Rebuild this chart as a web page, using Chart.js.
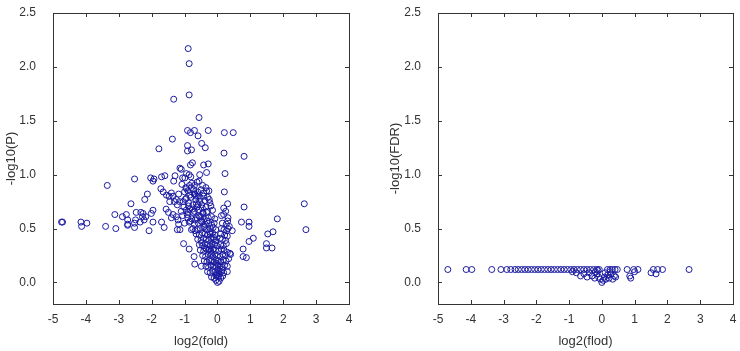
<!DOCTYPE html>
<html>
<head>
<meta charset="utf-8">
<script src="https://cdn.jsdelivr.net/npm/chart.js@4.4.1/dist/chart.umd.min.js"></script>
<style>
    body { margin: 0; background: #fff; }
    .wrap { display: flex; width: 740px; height: 351px; }
    .wrap div { width: 370px; height: 351px; }
</style>
</head>
<body>
<div class="wrap">
    <div><canvas id="volcanoP" width="370" height="351"></canvas></div>
    <div><canvas id="volcanoFdr" width="370" height="351"></canvas></div>
</div>
<script>
// tick values
let xTicks = [-5, -4, -3, -2, -1, 0, 1, 2, 3, 4];
let yTicks = [0, 0.5, 1.0, 1.5, 2.0, 2.5];

// left panel: log2(fold) vs -log10(P)
let foldP = [
    -0.89, -0.86, -0.86, -1.33, -0.56, -0.91, -0.82, -0.70, -0.28, 0.21, 0.48, -0.59, -1.37, -0.48, -0.37,
    -0.91, -0.91, -0.79, -1.78, 0.20, 0.81, -0.76, -0.82, -0.42, -0.28, -1.14, -1.10, -0.33, 0.23, -1.29,
    -1.60, -1.70, -0.94, -0.86, -0.99, -0.81, -0.54, -2.03, -1.93, -2.52, -1.96, -1.33, -1.06, -0.56, -3.35,
    -1.72, -1.65, -0.94, -0.79, -0.35, -0.26, -0.33, 0.21, -1.40, -1.47, -1.55, -1.35, -2.13, -2.21, -1.18,
    -1.25, -0.71, -0.64, -0.42, -1.45, -1.31, -1.15, -0.54, -0.59, -1.04, -0.98, -0.25, -0.23, 0.31, -2.63,
    2.64, 0.81, 0.19, 0.25, -1.56, -1.49, -1.96, -2.01, -2.47, -2.33, -2.26, -0.84, -0.89, -0.74, -0.33,
    -3.12, -2.77, -2.89, -2.28, -2.18, -1.35, -1.40, -1.25, -1.06, -0.54, -0.50, -0.44, 0.12, 0.19, -2.73,
    -2.49, -2.23, -2.35, 1.82, 0.31, -4.71, -4.74, -4.15, -3.97, -4.13, -3.40, -3.09, -2.73, -2.73, -2.52,
    -2.52, -1.96, -2.08, -1.70, -1.62, 0.73, 0.96, 0.96, -1.18, -1.14, -1.22, -0.86, -0.79, 1.69, 1.53,
    2.69, 0.45, 0.32, 1.09, 0.96, -1.03, 1.49, 1.49, 1.66, 0.78, -0.86, 0.78, 0.88, -0.71, -0.69,
    -0.49, 0.38,
    -0.78, -0.70, -0.62, -0.45, -0.85, -0.90, -0.72, -0.60, -0.50, -0.42, -1.00, -0.95, -0.80, -0.66, -0.52,
    -0.38, -0.30, -0.88, -0.74, -0.62, -0.48, -0.35, -0.20, -1.10, -0.95, -0.70, -0.56, -0.44, -0.30, -0.15,
    -1.20, -0.90, -0.78, -0.63, -0.50, -0.40, -0.28, -0.18, -0.08, 0.32, -1.00, -0.70, -0.58, -0.47, -0.37,
    -0.27, -0.17, -0.10, 0.15, 0.27, 0.36, -0.75, -0.62, -0.52, -0.42, -0.33, -0.22, -0.13, -0.05, 0.12,
    0.20, 0.28, -0.65, -0.55, -0.46, -0.38, -0.30, -0.22, -0.15, -0.08, 0.10, 0.22, 0.30, -0.60, -0.50,
    -0.42, -0.34, -0.27, -0.20, -0.12, -0.05, 0.08, 0.15, 0.25, -0.55, -0.45, -0.37, -0.30, -0.23, -0.16,
    -0.09, -0.02, 0.10, 0.18, 0.27, -0.52, -0.42, -0.34, -0.27, -0.20, -0.13, -0.06, 0.04, 0.12, 0.20,
    0.30, -0.45, -0.36, -0.28, -0.21, -0.14, -0.07, 0.00, 0.08, 0.16, 0.24, 0.40, -0.40, -0.32, -0.25,
    -0.18, -0.11, -0.04, 0.03, 0.10, 0.18, 0.26, 0.34, -0.35, -0.27, -0.20, -0.13, -0.06, 0.01, 0.08,
    0.15, 0.22, 0.30, -0.30, -0.22, -0.15, -0.08, -0.02, 0.05, 0.12, 0.19, 0.30, -0.18, -0.10, -0.04,
    0.03, 0.10, 0.16, -0.05, 0.00, 0.05,
    -1.08, -0.96, -0.84, -0.68, -0.58, -1.22, -1.02, -0.88, -0.76, -0.64, -0.46, -0.92, -0.82, -0.68, -0.57,
    -0.40, -0.32, -0.24, -0.12, -0.06, -0.68, -0.48, -0.36, -0.25, -0.18, -0.03, 0.02, -0.01, 0.06, 0.14
];
let negLogP = [
    2.17, 2.03, 1.74, 1.70, 1.53, 1.41, 1.39, 1.41, 1.41, 1.39, 1.39, 1.36, 1.33, 1.29, 1.25,
    1.27, 1.22, 1.23, 1.24, 1.20, 1.17, 1.11, 1.09, 1.09, 1.10, 1.06, 1.05, 1.02, 1.01, 0.99,
    0.99, 0.98, 1.01, 1.00, 0.97, 0.98, 1.00, 0.97, 0.96, 0.96, 0.94, 0.94, 0.97, 0.94, 0.90,
    0.87, 0.84, 0.87, 0.88, 0.88, 0.85, 0.85, 0.84, 0.83, 0.80, 0.81, 0.80, 0.82, 0.77, 0.82,
    0.77, 0.82, 0.80, 0.80, 0.75, 0.75, 0.75, 0.75, 0.72, 0.75, 0.77, 0.77, 0.74, 0.73, 0.73,
    0.73, 0.70, 0.69, 0.66, 0.68, 0.65, 0.67, 0.64, 0.65, 0.65, 0.64, 0.68, 0.65, 0.65, 0.65,
    0.63, 0.63, 0.61, 0.61, 0.61, 0.63, 0.60, 0.61, 0.62, 0.61, 0.57, 0.64, 0.62, 0.63, 0.58,
    0.58, 0.58, 0.56, 0.59, 0.57, 0.56, 0.56, 0.56, 0.55, 0.52, 0.52, 0.50, 0.54, 0.53, 0.55,
    0.51, 0.56, 0.48, 0.56, 0.51, 0.56, 0.56, 0.52, 0.54, 0.49, 0.49, 0.56, 0.49, 0.47, 0.45,
    0.49, 0.48, 0.50, 0.41, 0.38, 0.36, 0.36, 0.32, 0.32, 0.31, 0.31, 0.24, 0.23, 0.24, 0.17,
    0.15, 0.27,
    0.92, 0.90, 0.93, 0.90, 0.90, 0.85, 0.86, 0.84, 0.86, 0.83, 0.84, 0.78, 0.79, 0.77, 0.78,
    0.76, 0.79, 0.71, 0.72, 0.70, 0.72, 0.70, 0.71, 0.66, 0.67, 0.66, 0.67, 0.65, 0.66, 0.67,
    0.58, 0.60, 0.59, 0.60, 0.61, 0.59, 0.60, 0.61, 0.59, 0.60, 0.55, 0.54, 0.55, 0.56, 0.54,
    0.55, 0.53, 0.55, 0.55, 0.54, 0.52, 0.50, 0.49, 0.50, 0.51, 0.49, 0.50, 0.51, 0.49, 0.50,
    0.49, 0.48, 0.45, 0.44, 0.46, 0.45, 0.44, 0.45, 0.46, 0.44, 0.45, 0.44, 0.43, 0.40, 0.39,
    0.41, 0.40, 0.39, 0.41, 0.40, 0.39, 0.41, 0.40, 0.39, 0.35, 0.34, 0.36, 0.35, 0.34, 0.36,
    0.35, 0.34, 0.35, 0.34, 0.36, 0.30, 0.29, 0.31, 0.30, 0.29, 0.31, 0.30, 0.29, 0.31, 0.30,
    0.28, 0.25, 0.24, 0.26, 0.25, 0.24, 0.26, 0.25, 0.24, 0.26, 0.25, 0.26, 0.20, 0.19, 0.21,
    0.20, 0.19, 0.21, 0.20, 0.19, 0.21, 0.20, 0.22, 0.15, 0.14, 0.16, 0.15, 0.14, 0.16, 0.15,
    0.14, 0.16, 0.15, 0.10, 0.09, 0.11, 0.10, 0.09, 0.11, 0.10, 0.09, 0.10, 0.05, 0.04, 0.06,
    0.05, 0.04, 0.06, 0.02, 0.00, 0.01,
    0.91, 0.88, 0.81, 0.82, 0.80, 0.72, 0.70, 0.74, 0.68, 0.73, 0.69, 0.63, 0.57, 0.58, 0.62,
    0.52, 0.57, 0.47, 0.42, 0.37, 0.48, 0.37, 0.32, 0.31, 0.27, 0.18, 0.12, 0.07, 0.08, 0.12
];

// right panel: log2(flod) vs -log10(FDR)
let foldF = [
    -4.70, -4.14, -3.97, -3.36, -3.08, -2.90, -2.78, -2.65, -2.55, -2.45, -2.35, -2.25, -2.15, -2.05, -1.95,
    -1.85, -1.75, -1.65, -1.55, -1.45, -1.35, -1.25, -1.15, -1.05, -0.95, -0.85, -0.75, -0.65, -0.55, -0.45,
    -0.35, -0.25, -0.15, -0.08, 0.17, 0.25, 0.32, 0.40, 0.47, 0.77, 0.97, 1.10, 1.57, 1.70, 1.85, 2.66,
    -0.90, -0.78, -0.65, -0.55, -0.45, -0.38, -0.30, -0.22, -0.15, -0.10, -0.05, 0.00, 0.04, 0.08, 0.12,
    0.18, 0.22, 0.28, 0.33, 0.38, 0.42, -0.20, -0.12, 0.10, 0.25, 0.85, 0.88, 1.00, 1.50, 1.65
];
let negLogFdr = [
    0.12, 0.12, 0.12, 0.12, 0.12, 0.12, 0.12, 0.12, 0.12, 0.12, 0.12, 0.12, 0.12, 0.12, 0.12,
    0.12, 0.12, 0.12, 0.12, 0.12, 0.12, 0.12, 0.12, 0.12, 0.12, 0.12, 0.12, 0.12, 0.12, 0.12,
    0.12, 0.12, 0.12, 0.12, 0.12, 0.12, 0.12, 0.12, 0.12, 0.12, 0.12, 0.12, 0.12, 0.12, 0.12, 0.12,
    0.10, 0.09, 0.06, 0.08, 0.05, 0.09, 0.06, 0.04, 0.08, 0.05, 0.03, 0.00, 0.02, 0.05, 0.03,
    0.07, 0.04, 0.08, 0.03, 0.06, 0.05, 0.10, 0.11, 0.09, 0.10, 0.06, 0.04, 0.10, 0.09, 0.08
];

const FONT = 'Arial, "Liberation Sans", sans-serif';
const TEXT_COLOR = '#333';
const POINT_COLOR = '#1a1aa0';

// box around the plot area with small inward tick marks on every side
const boxPlugin = {
    id: 'boxTicks',
    afterDraw(chart) {
        let ctx = chart.ctx;
        let area = chart.chartArea;
        let xs = chart.scales.x, ys = chart.scales.y;
        let len = 4;
        ctx.save();
        ctx.strokeStyle = '#333';
        ctx.lineWidth = 1;
        ctx.strokeRect(area.left + 0.5, area.top + 0.5, area.right - area.left, area.bottom - area.top);
        ctx.beginPath();
        xTicks.forEach(v => {
            let px = Math.round(xs.getPixelForValue(v)) + 0.5;
            ctx.moveTo(px, area.bottom);
            ctx.lineTo(px, area.bottom - len);
            ctx.moveTo(px, area.top);
            ctx.lineTo(px, area.top + len);
        });
        yTicks.forEach(v => {
            let py = Math.round(ys.getPixelForValue(v)) + 0.5;
            ctx.moveTo(area.left, py);
            ctx.lineTo(area.left + len, py);
            ctx.moveTo(area.right, py);
            ctx.lineTo(area.right - len, py);
        });
        ctx.stroke();
        ctx.restore();
    }
};

function makeChart(canvasId, xs, ys, xLabel, yLabel, yWidth, yTitlePad, rightPad) {
    let points = xs.map((x, i) => ({x: x, y: ys[i]}));
    return new Chart(document.getElementById(canvasId), {
        type: 'scatter',
        data: {
            datasets: [{
                data: points,
                borderColor: POINT_COLOR,
                backgroundColor: 'rgba(255,255,255,0)',
                borderWidth: 1,
                pointRadius: 3,
                pointHoverRadius: 3
            }]
        },
        options: {
            responsive: false,
            animation: false,
            layout: {autoPadding: false, padding: {top: 13, right: rightPad, left: 0, bottom: 0}},
            plugins: {
                legend: {display: false},
                tooltip: {enabled: false}
            },
            scales: {
                x: {
                    type: 'linear',
                    min: -5,
                    max: 4,
                    afterBuildTicks: s => { s.ticks = xTicks.map(v => ({value: v})); },
                    afterFit: s => { s.height = 47; s.paddingLeft = 0; s.paddingRight = 0; },
                    grid: {display: false},
                    border: {display: false},
                    ticks: {
                        padding: 0,
                        color: TEXT_COLOR,
                        font: {family: FONT, size: 12},
                        callback: v => String(v)
                    },
                    title: {
                        display: true,
                        text: xLabel,
                        color: TEXT_COLOR,
                        font: {family: FONT, size: 13},
                        padding: {top: 0, bottom: 2}
                    }
                },
                y: {
                    type: 'linear',
                    min: -0.2,
                    max: 2.5,
                    afterBuildTicks: s => { s.ticks = yTicks.map(v => ({value: v})); },
                    afterFit: s => { s.width = yWidth; s.paddingTop = 0; s.paddingBottom = 0; },
                    grid: {display: false},
                    border: {display: false},
                    ticks: {
                        padding: 9,
                        color: TEXT_COLOR,
                        font: {family: FONT, size: 12},
                        callback: v => v.toFixed(1)
                    },
                    title: {
                        display: true,
                        text: yLabel,
                        color: TEXT_COLOR,
                        font: {family: FONT, size: 13},
                        padding: {top: yTitlePad, bottom: 0}
                    }
                }
            }
        },
        plugins: [boxPlugin]
    });
}

makeChart('volcanoP', foldP, negLogP, 'log2(fold)', '-log10(P)', 53, 4, 21);
makeChart('volcanoFdr', foldF, negLogFdr, 'log2(flod)', '-log10(FDR)', 68, 18, 7);
</script>
</body>
</html>
